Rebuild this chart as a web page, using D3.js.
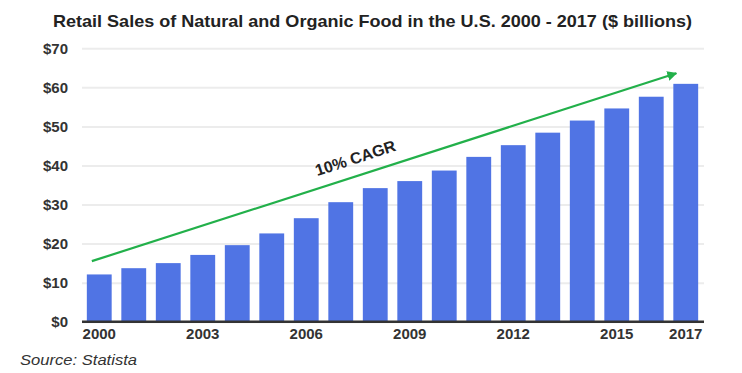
<!DOCTYPE html>
<html>
<head>
<meta charset="utf-8">
<script src="https://cdn.jsdelivr.net/npm/d3@7"></script>
<style>
  body { margin: 0; background: #fff; }
  text { font-family: "Liberation Sans", Arial, sans-serif; }
</style>
</head>
<body>
<script>
var years = ["2000", "2001", "2002", "2003", "2004", "2005", "2006", "2007", "2008",
  "2009", "2010", "2011", "2012", "2013", "2014", "2015", "2016", "2017"];
var sales = [12.1, 13.7, 15.0, 17.1, 19.6, 22.6, 26.5, 30.6, 34.2,
  36.0, 38.7, 42.2, 45.2, 48.4, 51.5, 54.6, 57.6, 60.9];
var yTicks = [0, 10, 20, 30, 40, 50, 60, 70];
var xTickLabels = ["2000", "2003", "2006", "2009", "2012", "2015", "2017"];
var trendStart = {year: "2000", value: 15.5};
var trendEnd = {year: "2017", value: 63.6};
var trendLabel = "10% CAGR";

var width = 742, height = 373;
var margin = {top: 48, right: 39, bottom: 51, left: 82};

var svg = d3.select("body")
  .append("svg")
  .attr("width", width)
  .attr("height", height);

var xScale = d3.scaleBand()
  .domain(years)
  .range([margin.left, width - margin.right])
  .paddingInner(0.28)
  .paddingOuter(0.14);

var yScale = d3.scaleLinear()
  .domain([0, 70])
  .range([height - margin.bottom - 0.3, margin.top + 0.3]);

// title
svg.append("text")
  .attr("x", 53)
  .attr("y", 27)
  .attr("textLength", 639)
  .attr("lengthAdjust", "spacingAndGlyphs")
  .style("font-size", "17px")
  .style("font-weight", "bold")
  .attr("fill", "#222")
  .text("Retail Sales of Natural and Organic Food in the U.S. 2000 - 2017 ($ billions)");

// gridlines + y labels
var yAxis = d3.axisLeft(yScale)
  .tickValues(yTicks)
  .tickSize(-(width - margin.right - margin.left + 1))
  .tickFormat(function(d) { return "$" + d; });

var yG = svg.append("g")
  .attr("transform", "translate(" + margin.left + ",0)")
  .call(yAxis);
yG.select(".domain").remove();
yG.selectAll(".tick line")
  .attr("stroke", "#ececec")
  .attr("stroke-width", 2);
yG.selectAll(".tick text")
  .attr("x", -14)
  .attr("fill", "#333")
  .style("font-size", "15px")
  .style("font-weight", "bold");

// bars
svg.selectAll(".bar")
  .data(sales)
  .enter().append("rect")
  .attr("class", "bar")
  .attr("x", function(d, i) { return xScale(years[i]); })
  .attr("width", xScale.bandwidth())
  .attr("y", function(d) { return yScale(d); })
  .attr("height", function(d) { return yScale(0) - yScale(d); })
  .attr("fill", "#5074e4");

// baseline + x labels
var xAxis = d3.axisBottom(xScale)
  .tickValues(xTickLabels)
  .tickSize(0)
  .tickPadding(7);

var xG = svg.append("g")
  .attr("transform", "translate(0," + yScale(0) + ")")
  .call(xAxis);
xG.select(".domain")
  .attr("stroke", "#333")
  .attr("stroke-width", 2.5)
  .attr("d", "M" + margin.left + ",0H" + (width - margin.right + 1));
xG.selectAll(".tick text")
  .attr("fill", "#333")
  .style("font-size", "15px")
  .style("font-weight", "bold");

// trend arrow
svg.append("defs").append("marker")
  .attr("id", "arrowhead")
  .attr("viewBox", "0 0 10 10")
  .attr("refX", 9)
  .attr("refY", 5)
  .attr("markerWidth", 4.5)
  .attr("markerHeight", 4.5)
  .attr("markerUnits", "strokeWidth")
  .attr("orient", "auto")
  .append("path")
  .attr("d", "M0,0L10,5L0,10z")
  .attr("fill", "#22b04a");

var x1 = xScale(trendStart.year) + 5, y1 = yScale(trendStart.value);
var x2 = xScale(trendEnd.year) + 3, y2 = yScale(trendEnd.value);

svg.append("line")
  .attr("x1", x1).attr("y1", y1)
  .attr("x2", x2).attr("y2", y2)
  .attr("stroke", "#22b04a")
  .attr("stroke-width", 2.2)
  .attr("marker-end", "url(#arrowhead)");

var angle = Math.atan2(y2 - y1, x2 - x1) * 180 / Math.PI;
var t = 0.46;
svg.append("text")
  .attr("transform", "translate(" + (x1 + t * (x2 - x1)) + "," + (y1 + t * (y2 - y1)) + ") rotate(" + angle + ")")
  .attr("text-anchor", "middle")
  .attr("dy", -12)
  .attr("fill", "#222")
  .style("font-size", "16px")
  .style("font-weight", "bold")
  .text(trendLabel);

// source
svg.append("text")
  .attr("x", 20)
  .attr("y", 365)
  .attr("textLength", 117)
  .attr("lengthAdjust", "spacingAndGlyphs")
  .attr("fill", "#333")
  .style("font-size", "15px")
  .style("font-style", "italic")
  .text("Source: Statista");
</script>
</body>
</html>
